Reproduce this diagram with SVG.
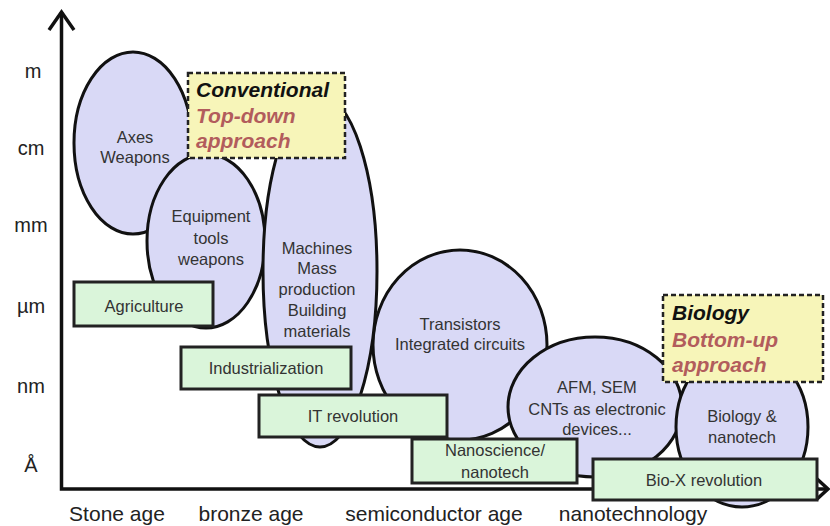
<svg xmlns="http://www.w3.org/2000/svg" width="830" height="526" viewBox="0 0 830 526">
<style>
.el{fill:#d9d9f6;stroke:#111;stroke-width:3}
.bx{fill:#daf5da;stroke:#222;stroke-width:3}
.yb{fill:#f7f5b9;stroke:#222;stroke-width:2.5;stroke-dasharray:5 3}
.t{font-family:"Liberation Sans",Arial,sans-serif;font-size:16.5px;fill:#333;text-anchor:middle}
.ax{font-family:"Liberation Sans",Arial,sans-serif;font-size:20px;fill:#222;text-anchor:middle}
.h{font-family:"Liberation Sans",Arial,sans-serif;font-size:21px;font-weight:bold;font-style:italic}
.k{fill:#111}
.r{fill:#b25c5c}
.axis{fill:none;stroke:#111;stroke-width:3.5}
</style>
<rect width="830" height="526" fill="#fff"/>
<g id="connectors">
<path class="axis" d="M61.5,12 V489 H826"/>
<path class="axis" d="M49,30 L61.5,12 L74,30"/>
<path class="axis" d="M816,478 L828,489 L816,500"/>
</g>
<g id="axis-labels">
<text class="ax" x="33" y="78">m</text>
<text class="ax" x="31" y="155">cm</text>
<text class="ax" x="31" y="232">mm</text>
<text class="ax" x="31" y="313">µm</text>
<text class="ax" x="31" y="393">nm</text>
<text class="ax" x="31" y="472">Å</text>
<text class="ax" x="117" y="521" style="font-size:21px">Stone age</text>
<text class="ax" x="251" y="521" style="font-size:21px">bronze age</text>
<text class="ax" x="434" y="521" style="font-size:21px">semiconductor age</text>
<text class="ax" x="633" y="521" style="font-size:21px">nanotechnology</text>
</g>
<g id="axes-weapons">
<ellipse class="el" cx="133" cy="143" rx="59" ry="91"/>
<text class="t" x="135" y="143">Axes</text>
<text class="t" x="135" y="163">Weapons</text>
</g>
<g id="equipment">
<ellipse class="el" cx="206" cy="241" rx="59" ry="87"/>
<text class="t" x="211" y="222">Equipment</text>
<text class="t" x="211" y="244">tools</text>
<text class="t" x="211" y="265">weapons</text>
</g>
<g id="transistors">
<ellipse class="el" cx="460" cy="345" rx="87" ry="95"/>
<text class="t" x="460" y="330">Transistors</text>
<text class="t" x="460" y="350">Integrated circuits</text>
</g>
<g id="machines">
<ellipse class="el" cx="320" cy="271" rx="57" ry="176"/>
<text class="t" x="317" y="254">Machines</text>
<text class="t" x="317" y="274">Mass</text>
<text class="t" x="317" y="295">production</text>
<text class="t" x="317" y="316">Building</text>
<text class="t" x="317" y="337">materials</text>
</g>
<g id="afm">
<ellipse class="el" cx="595" cy="407" rx="87" ry="70"/>
<text class="t" x="597" y="393">AFM, SEM</text>
<text class="t" x="597" y="415">CNTs as electronic</text>
<text class="t" x="597" y="435">devices...</text>
</g>
<g id="bio-nano">
<ellipse class="el" cx="742" cy="427" rx="66" ry="80"/>
<text class="t" x="742" y="422">Biology &amp;</text>
<text class="t" x="742" y="443">nanotech</text>
</g>
<g id="agriculture">
<rect class="bx" x="74" y="282" width="139" height="44"/>
<text class="t" x="144" y="312">Agriculture</text>
</g>
<g id="industrialization">
<rect class="bx" x="181" y="347" width="170" height="42"/>
<text class="t" x="266" y="374">Industrialization</text>
</g>
<g id="it-revolution">
<rect class="bx" x="259" y="395" width="188" height="42"/>
<text class="t" x="353" y="422">IT revolution</text>
</g>
<g id="nanoscience">
<rect class="bx" x="412" y="439" width="165" height="44"/>
<text class="t" x="495" y="456">Nanoscience/</text>
<text class="t" x="495" y="478">nanotech</text>
</g>
<g id="biox">
<rect class="bx" x="593" y="459" width="224" height="41"/>
<text class="t" x="704" y="486">Bio-X revolution</text>
</g>
<g id="conventional">
<rect class="yb" x="188" y="73" width="157" height="85"/>
<text class="h k" x="196" y="97">Conventional</text>
<text class="h r" x="196" y="123">Top-down</text>
<text class="h r" x="196" y="148">approach</text>
</g>
<g id="biology">
<rect class="yb" x="663" y="295" width="160" height="87"/>
<text class="h k" x="672" y="320">Biology</text>
<text class="h r" x="672" y="347">Bottom-up</text>
<text class="h r" x="672" y="372">approach</text>
</g>
</svg>
